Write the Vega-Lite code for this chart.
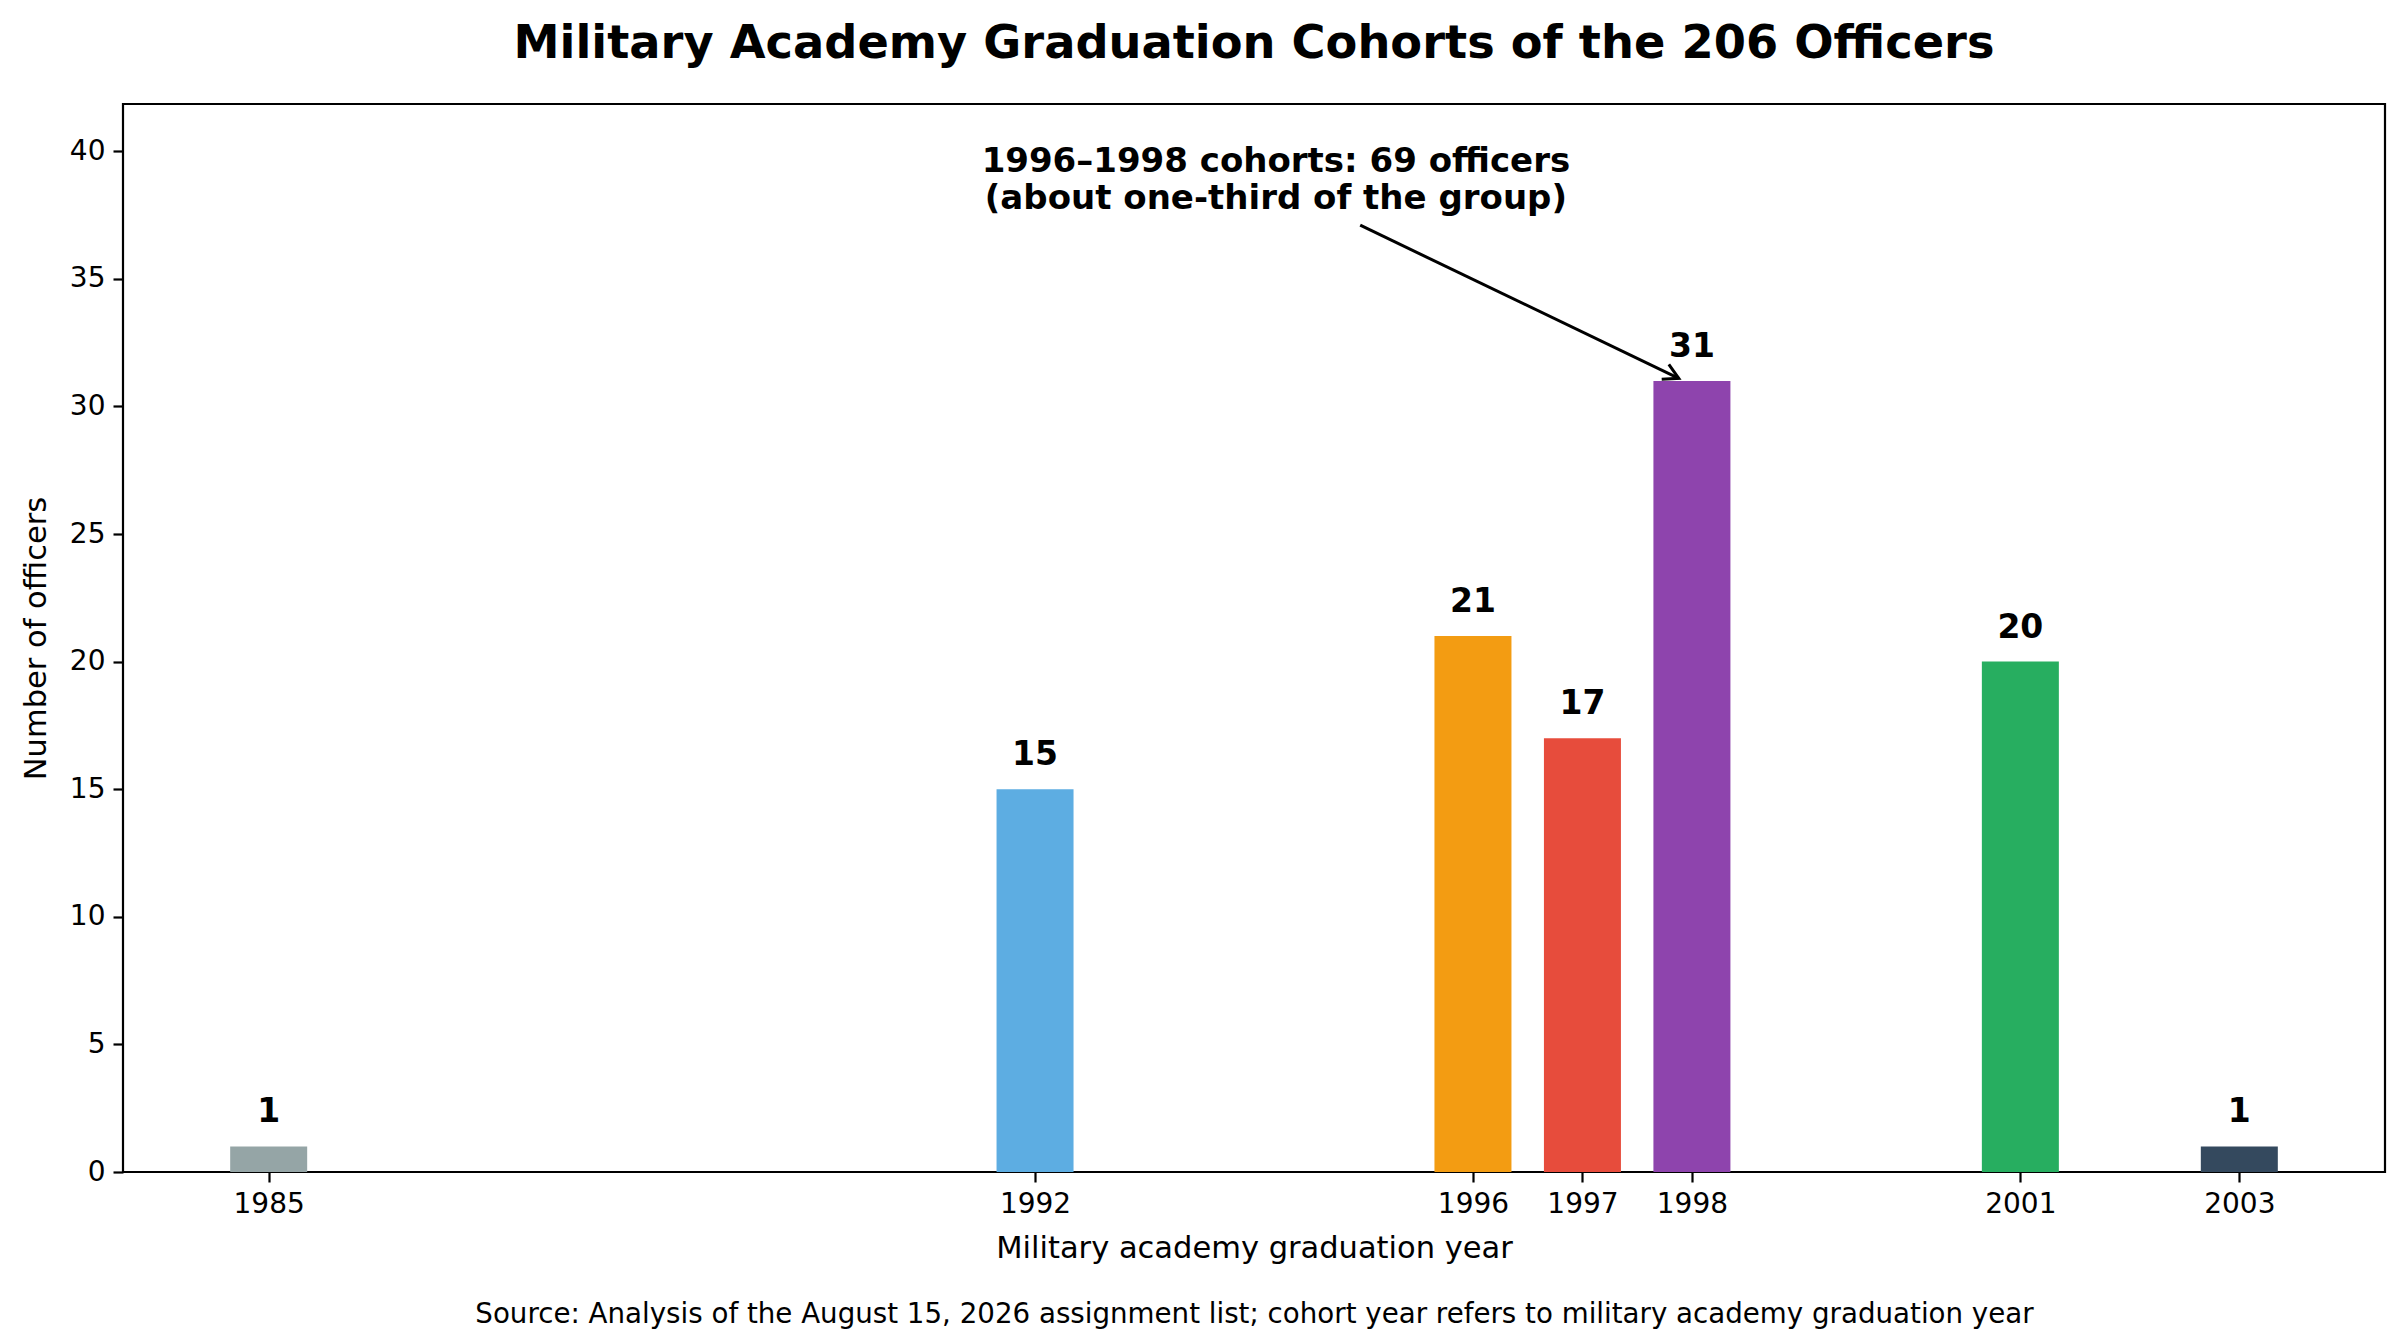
{
  "$schema": "https://vega.github.io/schema/vega-lite/v6.json",
  "description": "Military academy graduation cohorts, bar chart with value labels and an annotation arrow.",
  "width": 2262,
  "height": 1068,
  "autosize": {"type": "none"},
  "padding": {"left": 123, "top": 104, "right": 11, "bottom": 170},
  "background": "white",
  "config": {
    "font": "DejaVu Sans",
    "view": {"stroke": "black", "strokeWidth": 2.2},
    "axis": {
      "grid": false,
      "domain": false,
      "labelFont": "DejaVu Sans",
      "labelFontSize": 28,
      "labelColor": "black",
      "tickColor": "black",
      "tickSize": 10,
      "tickWidth": 2.2,
      "labelPadding": 8,
      "titleFont": "DejaVu Sans",
      "titleFontSize": 30.5,
      "titleFontWeight": "normal",
      "titleColor": "black"
    }
  },
  "title": {
    "text": "Military Academy Graduation Cohorts of the 206 Officers",
    "font": "DejaVu Sans",
    "fontSize": 46.3,
    "fontWeight": "bold",
    "color": "black",
    "anchor": "middle",
    "baseline": "alphabetic",
    "offset": 0
  },
  "datasets": {
    "cohorts": [
      {"year": 1985, "officers": 1},
      {"year": 1992, "officers": 15},
      {"year": 1996, "officers": 21},
      {"year": 1997, "officers": 17},
      {"year": 1998, "officers": 31},
      {"year": 2001, "officers": 20},
      {"year": 2003, "officers": 1}
    ],
    "note": [
      {"x": 1994.2, "y": 39.2, "label": ["1996–1998 cohorts: 69 officers", "(about one-third of the group)"]}
    ],
    "arrow": [
      {"x": 1994.97, "y": 37.1, "x2": 1997.88, "y2": 31.1}
    ]
  },
  "layer": [
    {
      "data": {"name": "cohorts"},
      "mark": {"type": "bar", "size": 77},
      "encoding": {
        "x": {
          "field": "year",
          "type": "quantitative",
          "scale": {"domain": [1983.715, 2004.285], "nice": false, "zero": false},
          "axis": {
            "values": [1985, 1992, 1996, 1997, 1998, 2001, 2003],
            "format": "d",
            "title": "Military academy graduation year",
            "titlePadding": 15
          }
        },
        "y": {
          "field": "officers",
          "type": "quantitative",
          "scale": {"domain": [0, 41.85], "nice": false},
          "axis": {
            "values": [0, 5, 10, 15, 20, 25, 30, 35, 40],
            "title": "Number of officers",
            "titlePadding": 18
          }
        },
        "color": {
          "field": "year",
          "type": "nominal",
          "scale": {
            "domain": [1985, 1992, 1996, 1997, 1998, 2001, 2003],
            "range": ["#95a5a6", "#5dade2", "#f39c12", "#e74c3c", "#8e44ad", "#27ae60", "#34495e"]
          },
          "legend": null
        }
      }
    },
    {
      "data": {"name": "cohorts"},
      "mark": {"type": "text", "fontWeight": "bold", "fontSize": 33, "baseline": "alphabetic", "align": "center", "dy": -24, "color": "black"},
      "encoding": {
        "x": {"field": "year", "type": "quantitative", "axis": null},
        "y": {"field": "officers", "type": "quantitative", "axis": null},
        "text": {"field": "officers", "type": "quantitative"}
      }
    },
    {
      "data": {"name": "arrow"},
      "mark": {"type": "rule", "color": "black", "strokeWidth": 3},
      "encoding": {
        "x": {
          "field": "x",
          "type": "quantitative",
          "axis": {
            "orient": "bottom",
            "labels": false,
            "ticks": false,
            "domain": false,
            "title": "Source: Analysis of the August 15, 2026 assignment list; cohort year refers to military academy graduation year",
            "titleFontSize": 27.7,
            "titlePadding": 128
          }
        },
        "y": {"field": "y", "type": "quantitative", "axis": null},
        "x2": {"field": "x2"},
        "y2": {"field": "y2"}
      }
    },
    {
      "data": {"name": "arrow"},
      "mark": {
        "type": "point",
        "shape": "M-1,-0.55L0,0L-1,0.55",
        "angle": 25.6,
        "size": 900,
        "filled": false,
        "stroke": "black",
        "strokeWidth": 3,
        "opacity": 1
      },
      "encoding": {
        "x": {"field": "x2", "type": "quantitative", "axis": null},
        "y": {"field": "y2", "type": "quantitative", "axis": null}
      }
    },
    {
      "data": {"name": "note"},
      "mark": {"type": "text", "fontWeight": "bold", "fontSize": 34, "align": "center", "baseline": "alphabetic", "lineHeight": 37, "color": "black"},
      "encoding": {
        "x": {"field": "x", "type": "quantitative", "axis": null},
        "y": {"field": "y", "type": "quantitative", "axis": null},
        "text": {"field": "label"}
      }
    }
  ],
  "resolve": {"axis": {"x": "independent", "y": "independent"}}
}
